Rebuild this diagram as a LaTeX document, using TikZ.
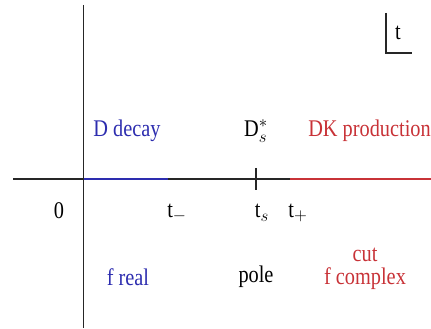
\documentclass[tikz,border=0pt]{standalone}
\usepackage{fontspec}
\setmainfont{Liberation Serif}[FakeStretch=0.85]
\usepackage{xcolor}
\usetikzlibrary{positioning}
\definecolor{decayblue}{RGB}{45,45,175}
\definecolor{prodred}{RGB}{200,50,55}

\begin{document}
\begin{tikzpicture}[x=0.025cm, y=-0.025cm]
    \tikzstyle{lab} = [inner sep=0pt, font=\fontsize{17}{19}\selectfont]
    \tikzstyle{axis} = [draw=black!85, line width=1.1pt]
    \useasboundingbox (0,0) rectangle (431,328);

    % axes
    \coordinate (xl) at (13,179);
    \coordinate (xr) at (431,179);
    \coordinate (yt) at (83.5,5);
    \coordinate (yb) at (83.5,328);
    \coordinate (o)  at (83.5,179);
    \coordinate (tm) at (168,179);
    \coordinate (ts) at (256,179);
    \coordinate (tp) at (290,179);

    \draw [axis] (xl) -- (xr);
    \draw [axis] (yt) -- (yb);
    \draw [decayblue, line width=1.1pt] (o) -- (tm);
    \draw [prodred, line width=1.1pt] (tp) -- (xr);
    \draw [axis] ([yshift=0.28cm]ts) -- ([yshift=-0.28cm]ts);

    % region labels
    \node (decay) [lab, text=decayblue] at (127,131) {D decay};
    \node (pole)  [lab] at (256,131) {D$^*_s$};
    \node (prod)  [lab, text=prodred, anchor=west] at (308,131) {DK production};

    % axis labels
    \node (zero) [lab] at (59,211) {0};
    \node (lm)   [lab] at (177,213) {t$_-$};
    \node (ls)   [lab] at (262,213) {t$_s$};
    \node (lp)   [lab] at (298,213) {t$_+$};

    % behaviour of f
    \node (freal) [lab, text=decayblue] at (128,277) {f real};
    \node (fpole) [lab] at (256,277) {pole};
    \node (fcut)  [lab, text=prodred, align=center] at (365,269) {cut\\[-3pt]f complex};

    % variable box
    \coordinate (bt) at (386,13);
    \coordinate (bc) at (386,53);
    \coordinate (br) at (412,53);
    \draw [black!85, line width=0.9pt] (bt) -- (bc) -- (br);
    \node (tvar) [lab] at (398,33) {t};
\end{tikzpicture}
\end{document}
